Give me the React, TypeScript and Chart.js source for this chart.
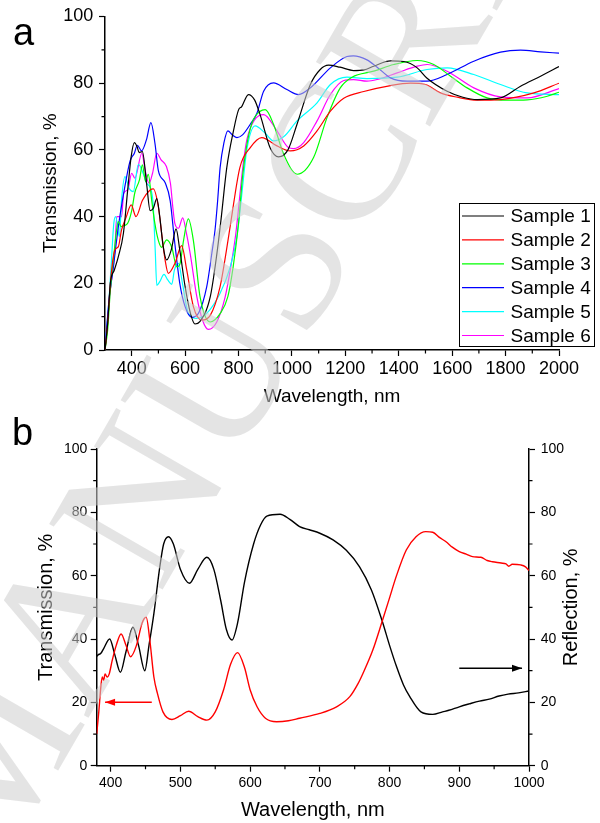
import React, { useEffect, useRef } from "react";
import { Chart, registerables } from "chart.js";

Chart.register(...registerables);

const FONT = "Arial, 'Liberation Sans', Helvetica, sans-serif";

// ---------------- Panel a ----------------
const A_X_TITLE = "Wavelength, nm";
const A_Y_TITLE = "Transmission, %";
const A_X_RANGE = [300, 2000];
const A_Y_RANGE = [0, 100];
const A_X_TICKS = [400, 600, 800, 1000, 1200, 1400, 1600, 1800, 2000];
const A_X_MINOR = [500, 700, 900, 1100, 1300, 1500, 1700, 1900];
const A_Y_TICKS = [0, 20, 40, 60, 80, 100];
const A_Y_MINOR = [10, 30, 50, 70, 90];
const SAMPLE_LABELS = ["Sample 1", "Sample 2", "Sample 3", "Sample 4", "Sample 5", "Sample 6"];
const SAMPLE_COLORS = ["#000000", "#ff0000", "#00ff00", "#0000ff", "#00ffff", "#ff00ff"];

const S1_WL = [300, 310, 320, 335, 350, 369, 385, 398, 410, 420, 428, 440, 456, 469, 481, 494, 505, 518, 531, 548, 566, 580, 600, 620, 637, 655, 694, 719, 734, 756, 781, 800, 812, 837, 860, 881, 919, 950, 985, 1019, 1069, 1106, 1137, 1180, 1231, 1270, 1306, 1369, 1419, 1469, 1506, 1581, 1640, 1694, 1781, 1856, 1931, 2000];
const S1_T = [0, 8, 20, 24, 28, 35, 48, 58, 62.2, 61, 59.2, 59.5, 49.7, 41.8, 42.5, 45.4, 40, 31, 27, 30, 36.3, 30, 19, 11, 7.8, 8.5, 15.9, 28.9, 38.8, 54.7, 65.7, 72, 73, 76.6, 75, 70.5, 60.5, 57.9, 60, 67.7, 79.6, 84.1, 85.4, 84.8, 83.8, 84, 85.1, 86.7, 86.5, 84.6, 81.5, 77.6, 75.8, 75.1, 75.6, 79.1, 82.1, 85];

const S2_WL = [300, 310, 320, 337, 350, 362, 380, 398, 416, 440, 469, 481, 500, 512, 525, 537, 562, 587, 606, 631, 662, 694, 731, 755, 772, 805, 844, 887, 944, 994, 1044, 1094, 1144, 1194, 1269, 1369, 1444, 1500, 1556, 1619, 1694, 1781, 1906, 2000];
const S2_T = [0, 8, 20, 30, 31, 36, 40, 43.5, 40, 44.8, 48, 48.3, 42.8, 35, 27, 23, 26, 31.3, 24, 13, 9, 10.4, 19, 30, 38.8, 54.7, 60.7, 63.7, 61.2, 59.7, 61.2, 65.7, 71.6, 75.5, 77.5, 79.3, 80, 79.6, 77.1, 75.8, 74.9, 75.1, 77.1, 80];

const S3_WL = [300, 310, 320, 335, 350, 360, 371, 385, 400, 412, 429, 440, 452, 462, 475, 487, 500, 512, 531, 550, 569, 581, 594, 612, 631, 656, 694, 731, 760, 780, 800, 815, 830, 850, 881, 900, 931, 969, 1020, 1081, 1131, 1181, 1225, 1306, 1381, 1469, 1531, 1594, 1656, 1731, 1806, 1881, 1956, 2000];
const S3_T = [0, 6, 18, 30, 38.5, 37, 37.3, 38, 41.8, 47.3, 51, 55.5, 50.5, 52.7, 44.8, 37.8, 32.8, 30.8, 33, 30.8, 24.9, 25.9, 32.8, 39.3, 32.8, 15.9, 8.4, 10.9, 16, 25, 38, 52, 61, 68, 71.6, 72.1, 67.7, 58.7, 52.7, 57.7, 69.6, 78.6, 81.8, 83.6, 85.6, 86.8, 85.6, 82.1, 78.6, 75.6, 74.9, 75, 76.1, 77.3];

const S4_WL = [300, 315, 330, 350, 370, 394, 410, 421, 437, 455, 472, 487, 500, 525, 544, 560, 580, 600, 625, 650, 681, 700, 712, 722, 731, 745, 760, 777, 794, 815, 844, 869, 894, 931, 981, 1025, 1069, 1144, 1206, 1230, 1281, 1319, 1369, 1431, 1506, 1581, 1681, 1781, 1856, 1931, 2000];
const S4_T = [0, 15, 24, 37, 47, 56.7, 59, 61.4, 59.7, 63, 68.2, 62, 53.7, 50.2, 44.8, 33, 20, 13, 9.8, 11, 19, 29, 36, 45, 54.7, 62, 65.7, 64.5, 63.7, 64.5, 67.7, 71, 77.6, 80.1, 78.1, 76.6, 78.6, 84.6, 88, 88.2, 87, 84.8, 81.6, 80.6, 80.6, 82.6, 86.6, 89.3, 89.9, 89.4, 89];

const S5_WL = [300, 315, 325, 333, 340, 354, 362, 375, 390, 406, 425, 444, 456, 469, 480, 488, 494, 505, 521, 535, 550, 560, 575, 590, 612, 644, 681, 731, 769, 794, 810, 831, 862, 900, 931, 970, 1019, 1094, 1144, 1206, 1281, 1394, 1506, 1581, 1681, 1781, 1881, 2000];
const S5_T = [0, 15, 28, 38, 40, 34, 45, 52, 48.5, 47.5, 55.7, 52.7, 50, 48.7, 44, 30, 19.4, 20.5, 22.7, 21, 19.7, 24, 26, 20, 11, 9.5, 11, 17, 24.9, 34, 45, 60, 67.2, 65, 62.7, 64, 68.7, 74.1, 79.6, 81.8, 81.4, 81.8, 84.1, 84.6, 82.6, 79.6, 77.1, 76.6];

const S6_WL = [300, 320, 337, 344, 362, 370, 385, 400, 412, 438, 450, 465, 478, 494, 510, 530, 545, 555, 562, 575, 591, 605, 619, 644, 665, 687, 719, 750, 775, 790, 816, 831, 860, 894, 944, 987, 1006, 1044, 1094, 1144, 1194, 1231, 1281, 1319, 1394, 1469, 1506, 1581, 1681, 1781, 1881, 2000];
const S6_T = [0, 18, 30, 40, 40, 47, 48, 53, 51.5, 59, 54, 50, 53, 59, 57, 55, 50, 42, 37.8, 36.5, 39.6, 35, 28.9, 15.9, 9, 6.2, 8.5, 15.9, 26.9, 35, 54.7, 63, 69, 70.6, 65.7, 60.7, 60.4, 62.2, 68.7, 76.6, 80.8, 81.1, 80.6, 81.1, 83.1, 85.1, 85.6, 83.6, 78.6, 75.9, 75.6, 78.4];

const SAMPLE_WL = [S1_WL, S2_WL, S3_WL, S4_WL, S5_WL, S6_WL];
const SAMPLE_T = [S1_T, S2_T, S3_T, S4_T, S5_T, S6_T];

// ---------------- Panel b ----------------
const B_X_TITLE = "Wavelength, nm";
const B_Y_TITLE = "Transmission, %";
const B_Y2_TITLE = "Reflection, %";
const B_X_RANGE = [380, 1000];
const B_Y_RANGE = [0, 100];
const B_X_TICKS = [400, 500, 600, 700, 800, 900, 1000];
const B_X_MINOR = [450, 550, 650, 750, 850, 950];
const B_Y_TICKS = [0, 20, 40, 60, 80, 100];
const B_Y_MINOR = [10, 30, 50, 70, 90];

const B_RED_WL = [380, 383, 386, 388, 390, 392, 395, 398, 402, 408, 415, 422, 428.6, 437, 445, 451, 456, 462, 467, 475, 488, 500, 512, 525, 538, 550, 562, 572, 582, 592, 600, 610, 622, 638, 655, 671, 700, 724, 743, 755, 762, 776, 790, 800, 809.5, 824, 838, 852, 862, 872, 881, 890, 900, 910, 919, 931, 940, 947.6, 960, 967, 971, 976, 988, 995, 1000];
const B_RED_V = [10, 17, 25, 28, 27, 29, 28, 29, 33, 38, 41.6, 38, 34.4, 38, 45, 46.9, 40, 28, 22.9, 17, 14.6, 15.8, 17.2, 15.5, 14.4, 17, 24, 32, 35.7, 31, 24, 18.6, 15, 13.9, 14.2, 15, 16.5, 18.6, 21.8, 26, 29.2, 36.5, 46, 53, 59.7, 68.1, 72.3, 73.9, 73.7, 72, 70.7, 69, 67.6, 66.8, 66, 65.8, 64.8, 64.4, 64, 63.7, 63, 63.6, 63.4, 62.8, 61.6];

const B_BLACK_WL = [380, 382, 386, 390, 398.6, 406, 414, 422, 432, 440, 449, 455, 462, 470, 476, 483, 490, 500, 513, 525, 538, 548, 558, 566, 574, 582, 592, 605, 615, 624, 643, 657, 671, 685, 700, 719, 738, 757, 774, 789, 800, 810, 820, 829, 845, 862, 876, 885, 900, 914, 929, 943, 957, 970, 985, 1000];
const B_BLACK_V = [34.5, 35, 35.5, 37, 40, 35, 29.5, 36, 43.7, 38, 30, 38, 48, 62, 70, 72.3, 70, 62, 57.6, 62, 65.8, 62, 52, 43, 39.7, 45, 58, 70, 76, 78.8, 79.4, 77.8, 75.5, 74.5, 73.4, 71.3, 68, 62.8, 55.5, 46, 38, 31.3, 25.5, 21.8, 17, 16.2, 17, 17.5, 18.6, 19.5, 20.4, 21, 22, 22.6, 23, 23.6];

const B_RED_ARROW_X = [459, 392];
const B_RED_ARROW_Y = [20, 20];
const B_BLACK_ARROW_X = [900, 990];
const B_BLACK_ARROW_Y = [30.8, 30.8];

const toXY = (xs: number[], ys: number[]) => xs.map((x, i) => ({ x, y: ys[i] }));

function minorTicksPlugin(specs: { id: string; values: number[]; side: string; len: number }[]) {
  return {
    id: "minorTicks",
    afterDraw(chart: any) {
      const { ctx, chartArea } = chart;
      ctx.save();
      ctx.strokeStyle = "#000";
      ctx.lineWidth = 1.2;
      ctx.beginPath();
      for (const s of specs) {
        const scale = chart.scales[s.id];
        for (const v of s.values) {
          const p = scale.getPixelForValue(v);
          if (s.side === "bottom") {
            ctx.moveTo(p, chartArea.bottom);
            ctx.lineTo(p, chartArea.bottom + s.len);
          } else if (s.side === "left") {
            ctx.moveTo(chartArea.left - s.len, p);
            ctx.lineTo(chartArea.left, p);
          } else {
            ctx.moveTo(chartArea.right, p);
            ctx.lineTo(chartArea.right + s.len, p);
          }
        }
      }
      ctx.stroke();
      ctx.restore();
    },
  };
}

const boxLegendPlugin = {
  id: "boxLegend",
  afterDraw(chart: any) {
    const { ctx, chartArea } = chart;
    const left = chartArea.right - 100;
    const top = chartArea.bottom - 147;
    const w = 135;
    const h = 143;
    ctx.save();
    ctx.fillStyle = "#fff";
    ctx.fillRect(left, top, w, h);
    ctx.strokeStyle = "#000";
    ctx.lineWidth = 1;
    ctx.strokeRect(left + 0.5, top + 0.5, w, h);
    ctx.font = `19px ${FONT}`;
    ctx.textBaseline = "middle";
    ctx.textAlign = "left";
    chart.data.datasets.forEach((ds: any, i: number) => {
      const y = top + 13 + i * 23.9;
      ctx.strokeStyle = ds.borderColor;
      ctx.lineWidth = 1.2;
      ctx.beginPath();
      ctx.moveTo(left + 3, y);
      ctx.lineTo(left + 45, y);
      ctx.stroke();
      ctx.fillStyle = "#000";
      ctx.fillText(ds.label, left + 51.5, y + 1);
    });
    ctx.restore();
  },
};

function drawArrow(ctx: any, x1: number, y1: number, x2: number, y2: number, color: string) {
  ctx.save();
  ctx.strokeStyle = color;
  ctx.fillStyle = color;
  ctx.lineWidth = 1.5;
  ctx.beginPath();
  ctx.moveTo(x1, y1);
  ctx.lineTo(x2, y2);
  ctx.stroke();
  const ang = Math.atan2(y2 - y1, x2 - x1);
  const L = 10;
  const W = 3.5;
  ctx.beginPath();
  ctx.moveTo(x2, y2);
  ctx.lineTo(x2 - L * Math.cos(ang) + W * Math.sin(ang), y2 - L * Math.sin(ang) - W * Math.cos(ang));
  ctx.lineTo(x2 - L * Math.cos(ang) - W * Math.sin(ang), y2 - L * Math.sin(ang) + W * Math.cos(ang));
  ctx.closePath();
  ctx.fill();
  ctx.restore();
}

const arrowsPlugin = {
  id: "arrows",
  afterDraw(chart: any) {
    const { ctx } = chart;
    const x = chart.scales.x;
    const yl = chart.scales.y;
    const yr = chart.scales.y1;
    drawArrow(
      ctx,
      x.getPixelForValue(B_RED_ARROW_X[0]),
      yl.getPixelForValue(B_RED_ARROW_Y[0]),
      x.getPixelForValue(B_RED_ARROW_X[1]),
      yl.getPixelForValue(B_RED_ARROW_Y[1]),
      "#ff0000"
    );
    drawArrow(
      ctx,
      x.getPixelForValue(B_BLACK_ARROW_X[0]),
      yr.getPixelForValue(B_BLACK_ARROW_Y[0]),
      x.getPixelForValue(B_BLACK_ARROW_X[1]),
      yr.getPixelForValue(B_BLACK_ARROW_Y[1]),
      "#000000"
    );
  },
};

const rightTitlePlugin = {
  id: "rightTitle",
  afterDraw(chart: any) {
    const { ctx, chartArea } = chart;
    const s = chart.scales.y1;
    ctx.save();
    ctx.translate(s.right - 12, (chartArea.top + chartArea.bottom) / 2);
    ctx.rotate(-Math.PI / 2);
    ctx.font = `20px ${FONT}`;
    ctx.fillStyle = "#000";
    ctx.textAlign = "center";
    ctx.textBaseline = "middle";
    ctx.fillText(B_Y2_TITLE, 0, 0);
    ctx.restore();
  },
};

function axis(opts: any) {
  const {
    ticks, min, max, fontSize, pad, fit, horizontal, title, titleSize, position,
  } = opts;
  return {
    type: "linear",
    position,
    min,
    max,
    afterBuildTicks: (s: any) => {
      s.ticks = ticks.map((v: number) => ({ value: v }));
    },
    afterFit: (s: any) => {
      if (horizontal) s.height = fit;
      else s.width = fit;
    },
    ticks: {
      autoSkip: false,
      maxRotation: 0,
      padding: pad,
      color: "#000",
      font: { family: FONT, size: fontSize },
      callback: (v: any) => String(v),
    },
    grid: {
      drawOnChartArea: false,
      drawTicks: true,
      tickLength: 6,
      tickColor: "#000",
      tickWidth: 1.2,
    },
    border: { display: true, color: "#000", width: 1.5 },
    title: title
      ? {
          display: true,
          text: title,
          color: "#000",
          font: { family: FONT, size: titleSize },
          padding: { top: 0, bottom: 0 },
        }
      : { display: false },
  };
}

function PanelA() {
  const ref = useRef<HTMLCanvasElement | null>(null);
  useEffect(() => {
    if (!ref.current) return;
    const chart = new Chart(ref.current, {
      type: "line",
      data: {
        datasets: SAMPLE_LABELS.map((label, i) => ({
          label,
          data: toXY(SAMPLE_WL[i], SAMPLE_T[i]),
          borderColor: SAMPLE_COLORS[i],
          backgroundColor: SAMPLE_COLORS[i],
          borderWidth: 1.2,
          pointRadius: 0,
          fill: false,
          cubicInterpolationMode: "monotone",
        })),
      },
      options: {
        animation: false,
        responsive: false,
        devicePixelRatio: 1,
        layout: { padding: { left: 39, right: 41, top: 15, bottom: 11.6 } },
        plugins: { legend: { display: false }, tooltip: { enabled: false } },
        scales: {
          x: axis({ ticks: A_X_TICKS, min: A_X_RANGE[0], max: A_X_RANGE[1], fontSize: 18, pad: 2, fit: 58.4, horizontal: true, title: A_X_TITLE, titleSize: 19, position: "bottom" }),
          y: axis({ ticks: A_Y_TICKS, min: A_Y_RANGE[0], max: A_Y_RANGE[1], fontSize: 18, pad: 5.7, fit: 66, horizontal: false, title: A_Y_TITLE, titleSize: 19, position: "left" }),
        },
      } as any,
      plugins: [
        minorTicksPlugin([
          { id: "x", values: A_X_MINOR, side: "bottom", len: 3.5 },
          { id: "y", values: A_Y_MINOR, side: "left", len: 3.5 },
        ]),
        boxLegendPlugin,
      ],
    } as any);
    return () => chart.destroy();
  }, []);
  return (
    <canvas
      ref={ref}
      width={600}
      height={420}
      style={{ position: "absolute", left: 0, top: 0, width: 600, height: 420 }}
    />
  );
}

function PanelB() {
  const ref = useRef<HTMLCanvasElement | null>(null);
  useEffect(() => {
    if (!ref.current) return;
    const chart = new Chart(ref.current, {
      type: "line",
      data: {
        datasets: [
          {
            label: "Transmission",
            data: toXY(B_RED_WL, B_RED_V),
            borderColor: "#ff0000",
            borderWidth: 1.4,
            pointRadius: 0,
            fill: false,
            cubicInterpolationMode: "monotone",
            yAxisID: "y",
          },
          {
            label: "Reflection",
            data: toXY(B_BLACK_WL, B_BLACK_V),
            borderColor: "#000000",
            borderWidth: 1.4,
            pointRadius: 0,
            fill: false,
            cubicInterpolationMode: "monotone",
            yAxisID: "y1",
          },
        ],
      },
      options: {
        animation: false,
        responsive: false,
        devicePixelRatio: 1,
        layout: { padding: { left: 34, right: 16.5, top: 29, bottom: 1 } },
        plugins: { legend: { display: false }, tooltip: { enabled: false } },
        scales: {
          x: axis({ ticks: B_X_TICKS, min: B_X_RANGE[0], max: B_X_RANGE[1], fontSize: 14, pad: 3, fit: 56.3, horizontal: true, title: B_X_TITLE, titleSize: 20, position: "bottom" }),
          y: axis({ ticks: B_Y_TICKS, min: B_Y_RANGE[0], max: B_Y_RANGE[1], fontSize: 14, pad: 3.4, fit: 62.7, horizontal: false, title: B_Y_TITLE, titleSize: 20, position: "left" }),
          y1: axis({ ticks: B_Y_TICKS, min: B_Y_RANGE[0], max: B_Y_RANGE[1], fontSize: 14, pad: 5.7, fit: 54.5, horizontal: false, title: null, titleSize: 20, position: "right" }),
        },
      } as any,
      plugins: [
        minorTicksPlugin([
          { id: "x", values: B_X_MINOR, side: "bottom", len: 3.5 },
          { id: "y", values: B_Y_MINOR, side: "left", len: 3.5 },
          { id: "y1", values: B_Y_MINOR, side: "right", len: 3.5 },
        ]),
        arrowsPlugin,
        rightTitlePlugin,
      ],
    } as any);
    return () => chart.destroy();
  }, []);
  return (
    <canvas
      ref={ref}
      width={600}
      height={403}
      style={{ position: "absolute", left: 0, top: 420, width: 600, height: 403 }}
    />
  );
}

export default function App() {
  return (
    <div
      style={{
        position: "absolute",
        left: 0,
        top: 0,
        width: 600,
        height: 823,
        background: "#fff",
        overflow: "hidden",
      }}
    >
      <PanelA />
      <PanelB />
      <div style={{ position: "absolute", left: 13, top: 12.8, fontFamily: FONT, fontSize: 38, lineHeight: "38px", color: "#000" }}>a</div>
      <div style={{ position: "absolute", left: 12, top: 412.8, fontFamily: FONT, fontSize: 38, lineHeight: "38px", color: "#000" }}>b</div>
      <div
        style={{
          position: "absolute",
          left: -146,
          top: 790,
          transformOrigin: "0 0",
          transform: "rotate(-60deg)",
          fontFamily: "'Liberation Serif', 'DejaVu Serif', serif",
          fontSize: 200,
          lineHeight: "200px",
          whiteSpace: "nowrap",
          color: "rgba(205,205,205,0.55)",
          pointerEvents: "none",
        }}
      >
        MANUSCRIPT
      </div>
    </div>
  );
}
